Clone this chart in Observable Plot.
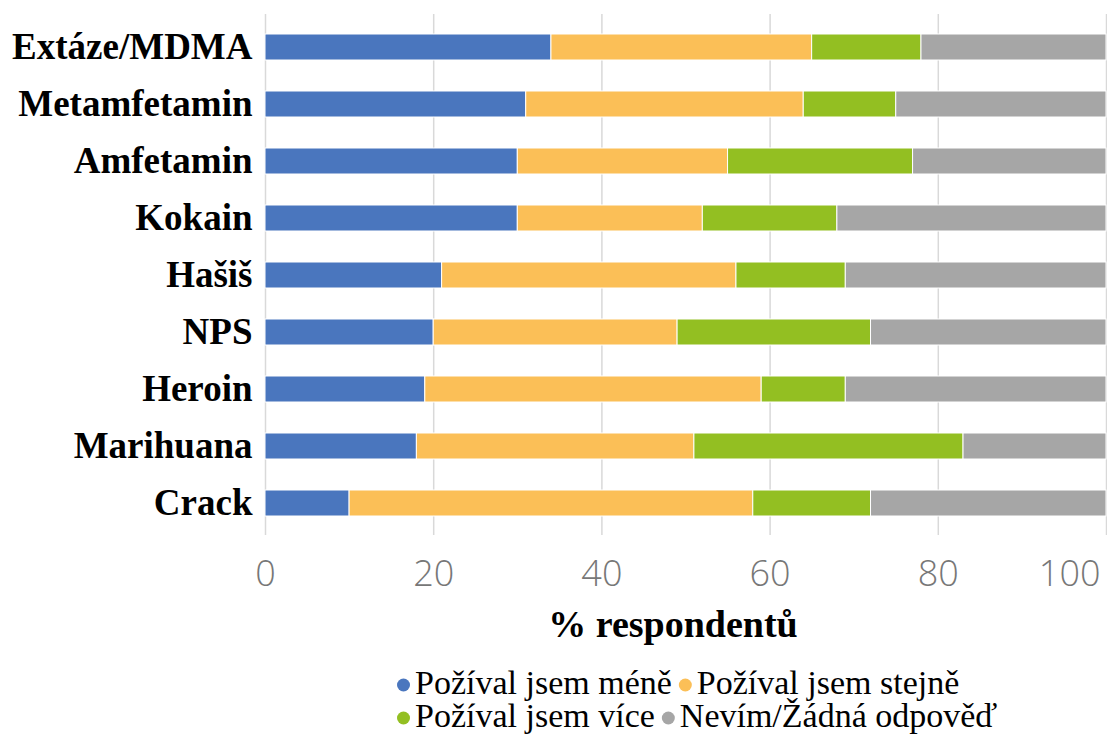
<!DOCTYPE html>
<html><head><meta charset="utf-8">
<script src="https://cdn.jsdelivr.net/npm/d3@7"></script>
<script src="https://cdn.jsdelivr.net/npm/@observablehq/plot@0.6"></script>
<style>
body{margin:0;background:#fff;}
svg{display:block;}
</style></head>
<body>
<div id="chart"></div>
<div id="legend"></div>
<script>
const categories = ["Extáze/MDMA","Metamfetamin","Amfetamin","Kokain","Hašiš","NPS","Heroin","Marihuana","Crack"];
const seriesNames = ["Požíval jsem méně","Požíval jsem stejně","Požíval jsem více","Nevím/Žádná odpověď"];
const seriesColors = ["#4a76be","#fbbf57","#93bf22","#a6a6a6"];
const less    = [34,31,30,30,21,20,19,18,10];
const same    = [31,33,25,22,35,29,40,33,48];
const more    = [13,11,22,16,13,23,10,32,14];
const unknown = [22,25,23,32,31,28,31,17,28];
const xTicks = [0,20,40,60,80,100];
const xLabel = "% respondentů";

const seriesValues = [less, same, more, unknown];
const data = [];
categories.forEach((c, i) => {
  seriesNames.forEach((s, j) => data.push({cat: c, series: s, value: seriesValues[j][i]}));
});

const serif = "Liberation Serif";
const sans = "Open Sans";
const lastTick = xTicks[xTicks.length - 1];
const chart = Plot.plot({
  width: 1107, height: 660,
  marginLeft: 265, marginRight: 1, marginTop: 14, marginBottom: 125,
  style: {background: "white"},
  x: {domain: [0, 100]},
  y: {domain: categories, paddingInner: 0.55, paddingOuter: 0.275},
  color: {domain: seriesNames, range: seriesColors},
  marks: [
    Plot.gridX(xTicks, {stroke: "#d9d9d9", strokeOpacity: 1, strokeWidth: 1.5}),
    Plot.barX(data, Plot.stackX({x: "value", y: "cat", fill: "series", order: seriesNames, stroke: "white", strokeWidth: 1})),
    Plot.axisX(xTicks.slice(0, -1), {tickSize: 0, tickPadding: 25, fontSize: 36, fontWeight: 300, fontFamily: sans, fill: "#777", label: null}),
    Plot.axisX([lastTick], {tickSize: 0, tickPadding: 25, fontSize: 36, fontWeight: 300, fontFamily: sans, fill: "#777", label: null, textAnchor: "end", dx: -6}),
    Plot.axisY({tickSize: 0, tickPadding: 13, fontSize: 37, fontWeight: "bold", fontFamily: serif, fill: "#000", label: null}),
    Plot.text([xLabel], {frameAnchor: "bottom", dy: 101, dx: -13, text: d => d, fontSize: 38, fontWeight: "bold", fontFamily: serif, fill: "#000"})
  ]
});
document.getElementById("chart").appendChild(chart);

// Legend drawn as SVG (two rows, left-aligned)
const lsvg = d3.select("#legend").append("svg")
  .attr("width", 1107).attr("height", 75)
  .style("background", "white");
const rows = [[0,1],[2,3]];
const rowCenters = [22, 55];
rows.forEach((pair, r) => {
  let x = 397;
  const cy = rowCenters[r];
  pair.forEach(j => {
    lsvg.append("circle").attr("cx", x + 6.5).attr("cy", cy + 3).attr("r", 6.5).attr("fill", seriesColors[j]);
    const t = lsvg.append("text")
      .attr("x", x + 18).attr("y", cy).attr("dy", "0.35em")
      .attr("font-family", serif).attr("font-size", 34).attr("fill", "#000")
      .style("font-family", serif)
      .text(seriesNames[j]);
    const w = t.node().getComputedTextLength();
    x = x + 18 + w + 7;
  });
});
</script>
</body></html>
